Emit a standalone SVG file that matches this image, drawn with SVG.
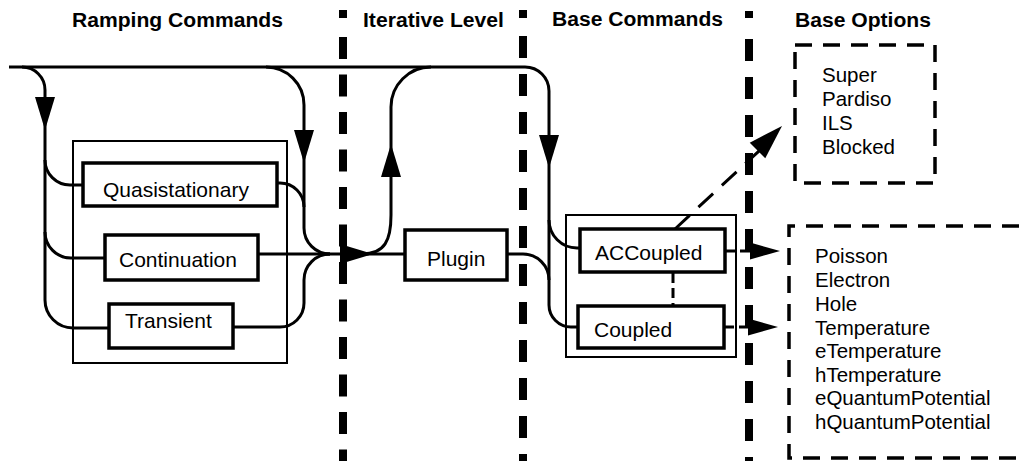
<svg xmlns="http://www.w3.org/2000/svg" xmlns:xlink="http://www.w3.org/1999/xlink" width="1019" height="461" viewBox="0 0 1019 461">
<style>
.hdr{font-family:"Liberation Sans",Arial,sans-serif;font-weight:bold;font-size:20px;fill:#000}
.lbl{font-family:"Liberation Sans",Arial,sans-serif;font-size:21px;fill:#000}
.opt{font-family:"Liberation Sans",Arial,sans-serif;font-size:20.5px;fill:#000}
.box{fill:#fff;stroke:#000;stroke-width:3.5}
.frame{fill:none;stroke:#000;stroke-width:2}
.dbox{fill:none;stroke:#000;stroke-width:3.5;stroke-dasharray:17 11}
.sep{stroke:#000;stroke-width:8;fill:none}
.wire{fill:none;stroke:#000;stroke-width:3}
.dwire{fill:none;stroke:#000;stroke-width:3;stroke-dasharray:10 5}
.dlong{fill:none;stroke:#000;stroke-width:3;stroke-dasharray:20 12}
</style>
<defs>
<path id="ah" d="M0 0 L-33 -10 L-33 10 Z" fill="#000"/>
<path id="ahs" d="M0 0 L-30 -8.5 L-30 8.5 Z" fill="#000"/>
</defs>
<g id="headers">
<text class="hdr" x="72" y="27" textLength="211" lengthAdjust="spacingAndGlyphs">Ramping Commands</text>
<text class="hdr" x="363" y="27" textLength="141" lengthAdjust="spacingAndGlyphs">Iterative Level</text>
<text class="hdr" x="552" y="26" textLength="171" lengthAdjust="spacingAndGlyphs">Base Commands</text>
<text class="hdr" x="795" y="27" textLength="136" lengthAdjust="spacingAndGlyphs">Base Options</text>
</g>
<g id="separators">
<rect x="339" y="10" width="8" height="8"/>
<line class="sep" x1="343" y1="37" x2="343" y2="461" stroke-dasharray="22 15.5"/>
<rect x="519" y="10" width="8" height="8"/>
<line class="sep" x1="523" y1="36" x2="523" y2="461" stroke-dasharray="22 16"/>
<rect x="745" y="11" width="8" height="7"/>
<line class="sep" x1="749" y1="39" x2="749" y2="461" stroke-dasharray="22 16"/>
</g>
<g id="frames">
<rect class="frame" x="73" y="141" width="214" height="222"/>
<rect class="frame" x="566" y="215" width="170" height="142"/>
</g>
<g id="connectors">
<path class="wire" d="M9 67 H525 A24 24 0 0 1 549 91 V305 A22 22 0 0 0 571 327 H578"/>
<path class="wire" d="M549 220 A28 28 0 0 0 577 248 H580"/>
<path class="wire" d="M507 254 H523 A26 26 0 0 1 549 280"/>
<path class="wire" d="M22 67 A23 23 0 0 1 45 90 V300 A28 28 0 0 0 73 328 H109"/>
<path class="wire" d="M45 160 A25 25 0 0 0 70 185 H83"/>
<path class="wire" d="M45 232 A26 26 0 0 0 71 258 H105"/>
<path class="wire" d="M266 67 A38 38 0 0 1 304 105 V228 A26 26 0 0 0 330 254"/>
<path class="wire" d="M277 183 H280 A24 24 0 0 1 304 207"/>
<path class="wire" d="M233 327 H280 A24 24 0 0 0 304 303 V280 A26 26 0 0 1 330 254"/>
<path class="wire" d="M258 254 H405"/>
<path class="wire" d="M362 254 C385 254 391 240 391 215 V107 A40 40 0 0 1 431 67"/>
<path class="dlong" d="M675 229 L760 150"/>
<path class="dwire" d="M725 251 H752"/>
<path class="dwire" d="M724 327 H750"/>
<path class="dwire" d="M673 273 V306"/>
<use xlink:href="#ah" transform="translate(45 130) rotate(90)"/>
<use xlink:href="#ah" transform="translate(304 163) rotate(90)"/>
<use xlink:href="#ah" transform="translate(391 144) rotate(-90)"/>
<use xlink:href="#ah" transform="translate(549 168) rotate(90)"/>
<use xlink:href="#ah" transform="translate(373 254)"/>
<use xlink:href="#ah" transform="translate(782 126) rotate(-45) scale(1.05 1.1)"/>
<use xlink:href="#ahs" transform="translate(780 251)"/>
<use xlink:href="#ahs" transform="translate(778 327)"/>
</g>
<g id="quasistationary">
<rect class="box" x="83" y="163" width="194" height="43"/>
<text class="lbl" x="103" y="197">Quasistationary</text>
</g>
<g id="continuation">
<rect class="box" x="105" y="235" width="153" height="45"/>
<text class="lbl" x="119" y="267">Continuation</text>
</g>
<g id="transient">
<rect class="box" x="109" y="304" width="124" height="44"/>
<text class="lbl" x="125" y="328">Transient</text>
</g>
<g id="plugin">
<rect class="box" x="405" y="230" width="102" height="50"/>
<text class="lbl" x="427" y="266">Plugin</text>
</g>
<g id="accoupled">
<rect class="box" x="580" y="229" width="145" height="43"/>
<text class="lbl" x="595" y="260">ACCoupled</text>
</g>
<g id="coupled">
<rect class="box" x="578" y="306" width="146" height="42"/>
<text class="lbl" x="594" y="337">Coupled</text>
</g>
<g id="solver-options">
<rect class="dbox" x="795" y="45" width="140" height="138"/>
<text class="opt" x="822" y="82">Super</text>
<text class="opt" x="822" y="106">Pardiso</text>
<text class="opt" x="822" y="130">ILS</text>
<text class="opt" x="822" y="154">Blocked</text>
</g>
<g id="equation-options">
<path class="dbox" d="M1019 226 H789 V458 H1019"/>
<text class="opt" x="815" y="263">Poisson</text>
<text class="opt" x="815" y="287">Electron</text>
<text class="opt" x="815" y="311">Hole</text>
<text class="opt" x="815" y="335">Temperature</text>
<text class="opt" x="815" y="358">eTemperature</text>
<text class="opt" x="815" y="382">hTemperature</text>
<text class="opt" x="815" y="405">eQuantumPotential</text>
<text class="opt" x="815" y="429">hQuantumPotential</text>
</g>
</svg>
